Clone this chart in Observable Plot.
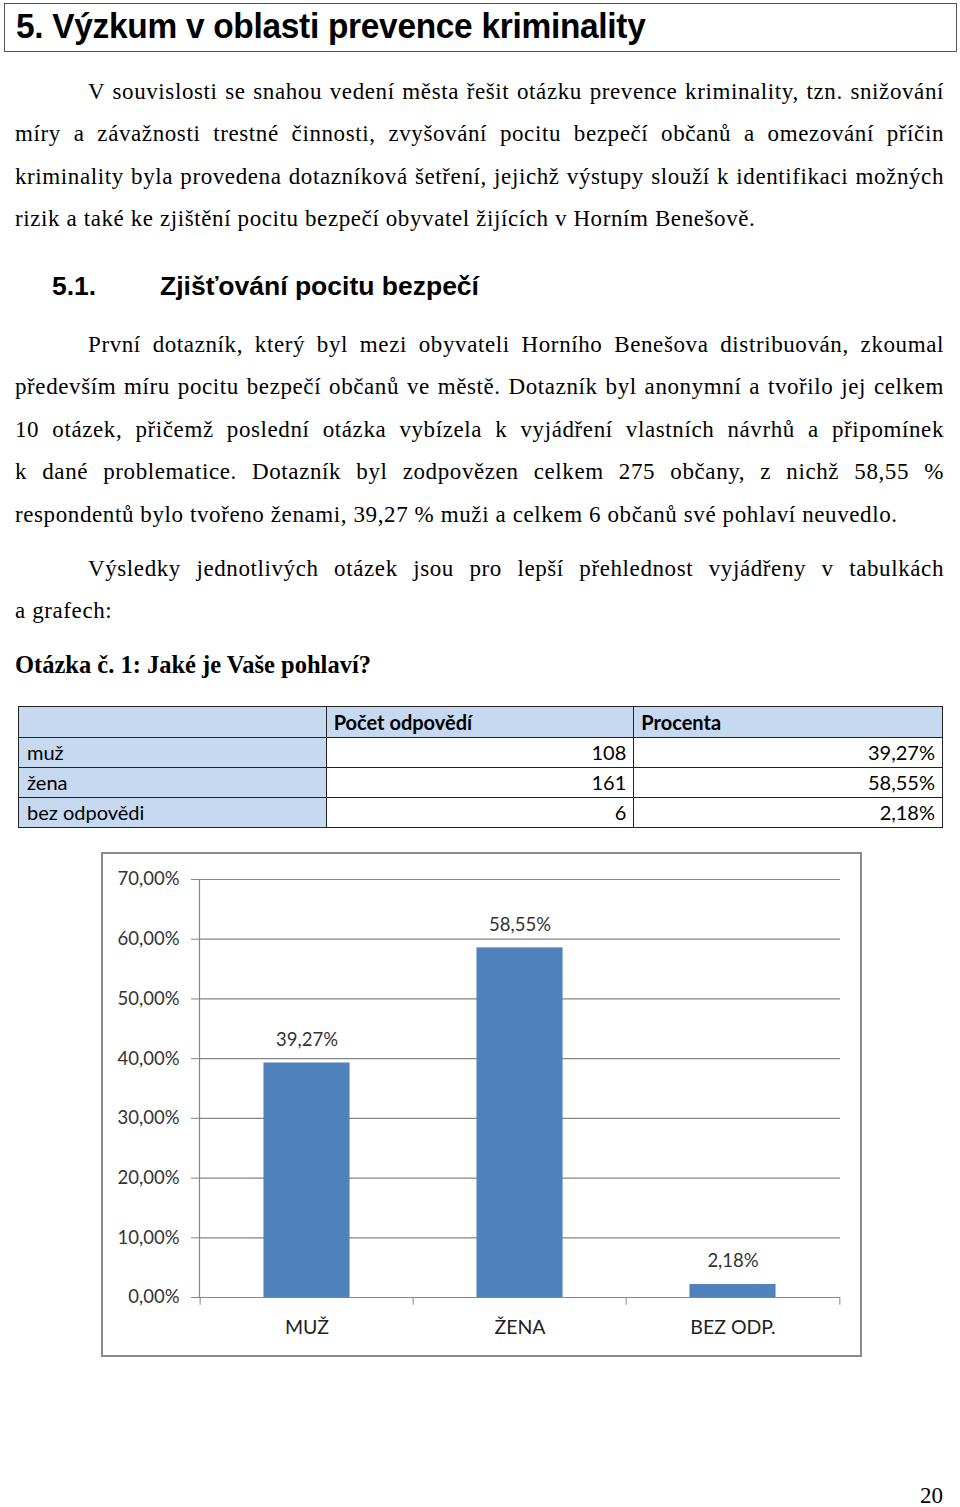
<!DOCTYPE html>
<html>
<head>
<meta charset="utf-8">
<script src="https://cdn.jsdelivr.net/npm/d3@7"></script>
<script src="https://cdn.jsdelivr.net/npm/@observablehq/plot@0.6"></script>
<style>
  html, body { margin: 0; padding: 0; background: #fff; }
  body { width: 960px; height: 1507px; position: relative; overflow: hidden; color: #000; }
  .abs { position: absolute; }
  .title { left: 4px; top: 3px; width: 951px; height: 47px; border: 1px solid #555; box-sizing: content-box; }
  .title span { position: absolute; left: 11px; top: 2px; font-family: "Liberation Sans", Arial, sans-serif; font-weight: bold; font-size: 35px; letter-spacing: -0.3px; transform: scaleX(0.955); transform-origin: left center; white-space: nowrap; }
  .para { left: 15px; width: 929px; font-family: "Liberation Serif", "Times New Roman", serif; font-size: 23px; letter-spacing: 0.6px; }
  .line { height: 42.4px; line-height: 42.4px; white-space: nowrap; text-align: justify; text-align-last: justify; }
  .line.last { text-align-last: left; }
  .line.ind { padding-left: 73px; }
  .h2 { font-family: "Liberation Sans", Arial, sans-serif; font-weight: bold; font-size: 26.5px; }
  .q { font-family: "Liberation Serif", serif; font-weight: bold; font-size: 24.5px; }
  table { border-collapse: collapse; font-family: Lato, "Open Sans", sans-serif; font-size: 20px; }
  td { border: 1px solid #222; padding: 0 7px 0 8px; height: 29px; line-height: 29px; }
  td.b { background: #c6d9f1; }
  td.r { text-align: right; }
  th { border: 1px solid #222; background: #c6d9f1; text-align: left; padding: 0 7px 0 7px; height: 30px; font-weight: bold; }
  #chart { left: 101px; top: 852px; width: 757px; height: 501px; border: 2px solid #8c8c8c; }
  #chart svg { display: block; }
  .pg { left: 920px; top: 1483px; font-family: "Liberation Serif", serif; font-size: 23px; }
</style>
</head>
<body>
<div class="abs title"><span>5. Výzkum v oblasti prevence kriminality</span></div>

<div class="abs para" style="top:71px">
  <div class="line ind">V souvislosti se snahou vedení města řešit otázku prevence kriminality, tzn. snižování</div>
  <div class="line">míry a závažnosti trestné činnosti, zvyšování pocitu bezpečí občanů a omezování příčin</div>
  <div class="line">kriminality byla provedena dotazníková šetření, jejichž výstupy slouží k identifikaci možných</div>
  <div class="line last">rizik a také ke zjištění pocitu bezpečí obyvatel žijících v Horním Benešově.</div>
</div>

<div class="abs h2" style="left:52px; top:271px">5.1.</div>
<div class="abs h2" style="left:160px; top:271px">Zjišťování pocitu bezpečí</div>

<div class="abs para" style="top:324px">
  <div class="line ind">První dotazník, který byl mezi obyvateli Horního Benešova distribuován, zkoumal</div>
  <div class="line">především míru pocitu bezpečí občanů ve městě. Dotazník byl anonymní a tvořilo jej celkem</div>
  <div class="line">10 otázek, přičemž poslední otázka vybízela k vyjádření vlastních návrhů a připomínek</div>
  <div class="line">k dané problematice. Dotazník byl zodpovězen celkem 275 občany, z nichž 58,55 %</div>
  <div class="line last">respondentů bylo tvořeno ženami, 39,27 % muži a celkem 6 občanů své pohlaví neuvedlo.</div>
</div>

<div class="abs para" style="top:548px">
  <div class="line ind">Výsledky jednotlivých otázek jsou pro lepší přehlednost vyjádřeny v tabulkách</div>
  <div class="line last">a grafech:</div>
</div>

<div class="abs q" style="left:15px; top:651px">Otázka č. 1: Jaké je Vaše pohlaví?</div>

<div class="abs" style="left:18px; top:706px">
  <table id="tbl" style="width:925px">
    <colgroup><col style="width:308px"><col style="width:308px"><col style="width:309px"></colgroup>
  </table>
</div>

<div class="abs" id="chart"></div>

<div class="abs pg">20</div>

<script>
// ---- data ----
const tableRows = ["muž", "žena", "bez odpovědi"];
const tableHeader = ["", "Počet odpovědí", "Procenta"];
const counts = [108, 161, 6];
const percentLabels = ["39,27%", "58,55%", "2,18%"];

const categories = ["MUŽ", "ŽENA", "BEZ ODP."];
const values = [39.27, 58.55, 2.18];
const yTicks = [0, 10, 20, 30, 40, 50, 60, 70];

// ---- table ----
const tbl = document.getElementById("tbl");
const thead = document.createElement("tr");
tableHeader.forEach(h => { const th = document.createElement("th"); th.textContent = h; thead.appendChild(th); });
tbl.appendChild(thead);
tableRows.forEach((r, i) => {
  const tr = document.createElement("tr");
  const c0 = document.createElement("td"); c0.className = "b"; c0.textContent = r; tr.appendChild(c0);
  const c1 = document.createElement("td"); c1.className = "r"; c1.textContent = counts[i]; tr.appendChild(c1);
  const c2 = document.createElement("td"); c2.className = "r"; c2.textContent = percentLabels[i]; tr.appendChild(c2);
  tbl.appendChild(tr);
});

// ---- chart ----
const data = categories.map((c, i) => ({cat: c, value: values[i], label: percentLabels[i]}));
const W = 757, H = 501, mL = 96, mR = 20, mT = 25, mB = 58;
const band = (W - mL - mR) / categories.length;
const fmt = d => d.toFixed(2).replace(".", ",") + "%";
const gray = "#868686";
const font = "Lato, 'Open Sans', sans-serif";

const chart = Plot.plot({
  width: W, height: H,
  marginLeft: mL, marginRight: mR, marginTop: mT, marginBottom: mB,
  style: {fontFamily: font, background: "#fff", color: "#333"},
  x: {domain: categories, padding: 0, label: null},
  y: {domain: [0, 70], label: null},
  marks: [
    Plot.gridY(yTicks.filter(d => d > 0), {stroke: gray, strokeOpacity: 1, strokeWidth: 1.2}),
    Plot.barY(data, {x: "cat", y: "value", fill: "#4f81bd", insetLeft: band * 0.297, insetRight: band * 0.297}),
    Plot.ruleY([0], {stroke: gray, strokeWidth: 1.2}),
    Plot.frame({anchor: "left", stroke: gray, strokeWidth: 1.2}),
    Plot.ruleX(categories, {x: d => d, dx: -band / 2, y1: 0, y2: -1.3, stroke: gray}),
    Plot.ruleX([categories[categories.length - 1]], {x: d => d, dx: band / 2, y1: 0, y2: -1.3, stroke: gray}),
    Plot.axisY({ticks: yTicks, tickFormat: fmt, tickSize: 8, tickPadding: 12, fontSize: 18.5, stroke: gray, fill: "#333"}),
    Plot.axisX({tickSize: 0, tickPadding: 23, fontSize: 19.5, fill: "#222"}),
    Plot.text(data, {x: "cat", y: "value", text: "label", dy: -23, fontSize: 18.5, fill: "#333"})
  ]
});
document.getElementById("chart").appendChild(chart);
</script>
</body>
</html>
